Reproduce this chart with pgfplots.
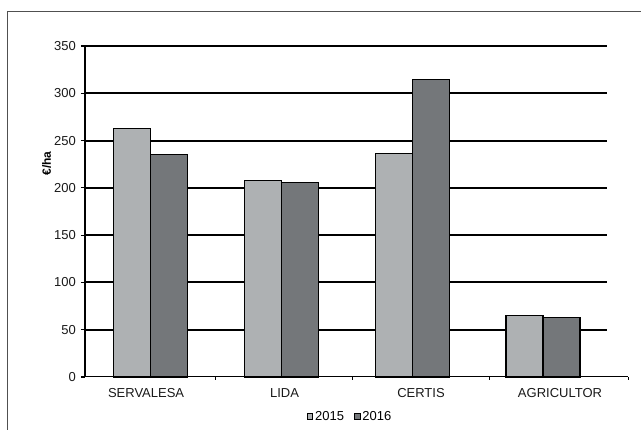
\documentclass[border=0pt]{standalone}
\usepackage{pgfplots}
\pgfplotsset{compat=1.18}
\usepackage{fontspec}
\setmainfont{Liberation Sans}
\definecolor{c2015}{RGB}{174,177,179}
\definecolor{c2016}{RGB}{116,119,122}
\definecolor{frame}{RGB}{80,80,80}
\begin{document}
\begin{tikzpicture}[x=1pt,y=1pt]
\useasboundingbox (0,0) rectangle (641,430);
\draw[frame, line width=0.9pt] (7,0) -- (7,419) -- (641,419);
\begin{axis}[
  at={(85pt,53pt)}, anchor=south west,
  scale only axis, width=543pt, height=331pt,
  xmin=-0.502, xmax=3.650,
  ymin=0, ymax=350,
  ybar=0pt, bar width=37pt,
  /pgf/number format/assume math mode=true,
  axis x line*=bottom, axis y line*=left,
  x axis line style={black, line width=1pt, -},
  y axis line style={black, line width=1.2pt, -},
  tick align=outside,
  ytick={0,50,...,350},
  major tick length=4pt,
  minor tick length=3pt,
  ytick style={black, line width=1.2pt},
  xtick={-0.035,1.024,2.067,3.130},
  xticklabels={SERVALESA,LIDA,CERTIS,AGRICULTOR},
  major x tick style={draw=none},
  minor xtick={0.497,1.543,2.594,3.650},
  minor x tick style={black, line width=1pt},
  xticklabel style={font=\fontsize{13}{15}\selectfont, text=black!90, anchor=north, inner sep=0pt, yshift=-7pt},
  yticklabel style={font=\fontsize{13}{15}\selectfont, text=black!90, anchor=east, inner sep=0pt, xshift=-5pt},
  ylabel={\bfseries €/ha},
  ylabel style={font=\fontsize{12}{14}\selectfont, at={(axis description cs:-0.0705,0.645)}, anchor=center, rotate=0},
  legend style={at={(axis description cs:0.488,-0.1193)}, anchor=center, draw=none, fill=none,
    font=\fontsize{13}{15}\selectfont, inner sep=0pt,
    /tikz/every even column/.append style={column sep=8pt}},
  legend columns=2,
  legend image code/.code={\draw[#1, line width=0.8pt] (0pt,-2.8pt) rectangle (5.6pt,2.8pt);},
  clip=false,
]
\pgfplotsinvokeforeach{50,100,...,350}{
  \draw[black, line width=2pt] (axis cs:-0.502,#1) -- (axis cs:3.489,#1);
}
\addplot[fill=c2015, draw=black, line width=1.1pt] coordinates {(0,263) (1,207.5) (2,236.5) (3,65)};
\addplot[fill=c2016, draw=black, line width=1.1pt] coordinates {(0,235) (1,206) (2,315) (3,63)};
\legend{2015,2016}
\end{axis}
\end{tikzpicture}
\end{document}
